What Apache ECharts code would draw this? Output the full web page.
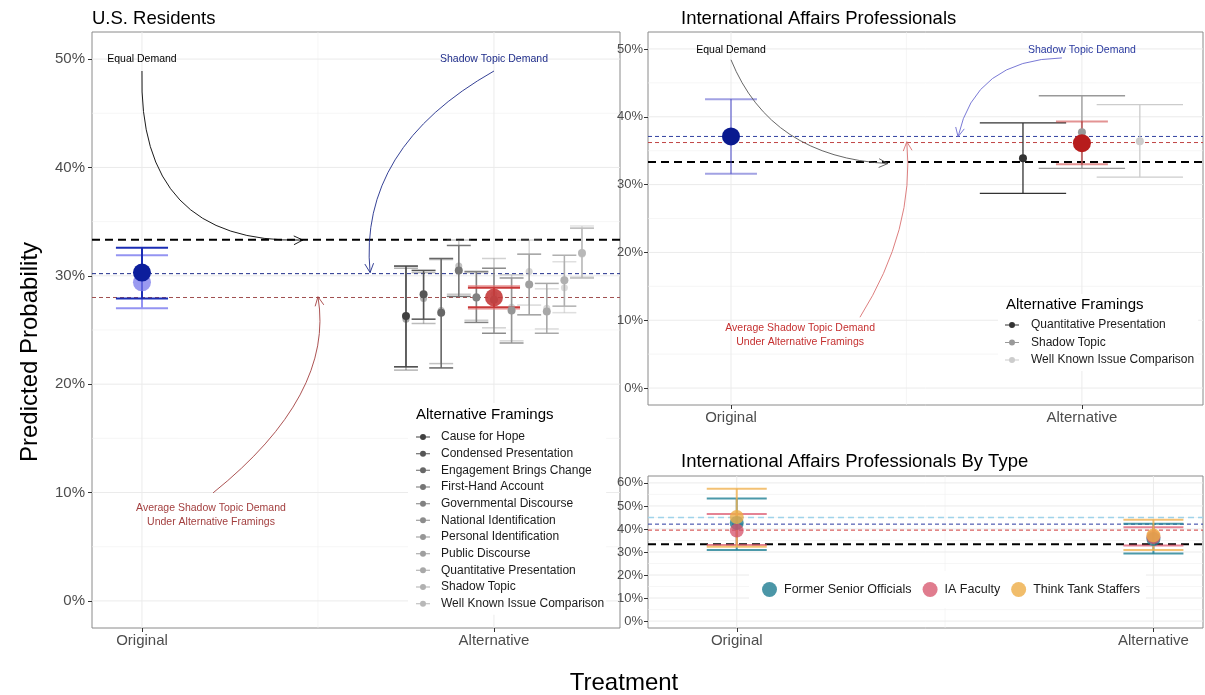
<!DOCTYPE html>
<html><head><meta charset="utf-8">
<script src="https://cdn.jsdelivr.net/npm/echarts@6/dist/echarts.min.js"></script>
<style>html,body{margin:0;padding:0;background:#fff}#c{width:1205px;height:695px}</style>
</head><body><div id="c"></div>
<script>
// ================= DATA =================
const treatments = ['Original', 'Alternative'];
const yTicksMain = [0, 0.1, 0.2, 0.3, 0.4, 0.5];
const yTicksType = [0, 0.1, 0.2, 0.3, 0.4, 0.5, 0.6];

// U.S. residents
const usFramings = ['Cause for Hope', 'Condensed Presentation', 'Engagement Brings Change', 'First-Hand Account',
  'Governmental Discourse', 'National Identification', 'Personal Identification', 'Public Discourse',
  'Quantitative Presentation', 'Shadow Topic', 'Well Known Issue Comparison'];
const usFramingEst  = [0.263, 0.283, 0.266, 0.305, 0.280, 0.278, 0.268, 0.292, 0.267, 0.296, 0.321];
const usFramingLo   = [0.216, 0.260, 0.215, 0.281, 0.257, 0.247, 0.238, 0.264, 0.247, 0.272, 0.298];
const usFramingHi   = [0.309, 0.305, 0.316, 0.328, 0.304, 0.307, 0.298, 0.320, 0.293, 0.319, 0.344];
const usFramingEst2 = [0.260, 0.279, 0.268, 0.309, 0.281, 0.283, 0.271, 0.304, 0.270, 0.289, 0.320];
const usFramingLo2  = [0.213, 0.256, 0.219, 0.283, 0.259, 0.252, 0.240, 0.273, 0.251, 0.266, 0.299];
const usFramingHi2  = [0.307, 0.303, 0.315, 0.333, 0.303, 0.316, 0.301, 0.333, 0.288, 0.313, 0.346];
const usOriginal  = [0.303, 0.279, 0.326];   // estimate, low, high
const usOriginal2 = [0.294, 0.270, 0.319];
const usAltAvg    = [0.280, 0.271, 0.289];
const usAltAvg2   = [0.280, 0.2695, 0.2905];
const usRefLines  = [1 / 3, 0.302, 0.280];   // equal demand, shadow topic demand, avg under alternatives

// International affairs professionals
const iaFramings   = ['Quantitative Presentation', 'Shadow Topic', 'Well Known Issue Comparison'];
const iaFramingEst = [0.339, 0.377, 0.364];
const iaFramingLo  = [0.287, 0.324, 0.311];
const iaFramingHi  = [0.391, 0.431, 0.418];
const iaOriginal   = [0.371, 0.316, 0.426];
const iaAltAvg     = [0.361, 0.330, 0.393];
const iaRefLines   = [1 / 3, 0.371, 0.362];

// By type
const types       = ['Former Senior Officials', 'IA Faculty', 'Think Tank Staffers'];
const typeOrigEst = [0.426, 0.393, 0.452];
const typeOrigLo  = [0.309, 0.330, 0.323];
const typeOrigHi  = [0.532, 0.465, 0.575];
const typeAltEst  = [0.356, 0.365, 0.372];
const typeAltLo   = [0.293, 0.328, 0.309];
const typeAltHi   = [0.423, 0.407, 0.440];
const typeRefLines = [1 / 3, 0.421, 0.395, 0.450];

// Annotations (data coordinates)
const usNoteText = ['Equal Demand', 'Shadow Topic Demand', 'Average Shadow Topic Demand\nUnder Alternative Framings'];
const usNoteAt   = [[1.0, 0.500], [2.0, 0.500], [1.196, 0.0794]];
const usNoteFrom = [[1.0, 0.489], [2.0, 0.489], [1.202, 0.0997]];
const usNoteCtrl = [[0.987, 0.329], [1.614, 0.418], [1.547, 0.190]];
const usNoteTo   = [[1.457, 0.333], [1.648, 0.303], [1.500, 0.2807]];
const iaNoteText = ['Equal Demand', 'Shadow Topic Demand', 'Average Shadow Topic Demand\nUnder Alternative Framings'];
const iaNoteAt   = [[1.0, 0.4985], [2.0, 0.4985], [1.197, 0.0787]];
const iaNoteFrom = [[1.0, 0.484], [1.943, 0.4868], [1.3675, 0.1044]];
const iaNoteCtrl = [[1.1125, 0.3404], [1.695, 0.484], [1.524, 0.2338]];
const iaNoteTo   = [[1.447, 0.331], [1.647, 0.3706], [1.501, 0.3632]];

// ================= STYLE =================
const FONT = '"Liberation Sans", Arial, Helvetica, sans-serif';
const usGray = ['#404040', '#565656', '#676767', '#757575', '#818181', '#8c8c8c', '#969696', '#9f9f9f', '#a8a8a8', '#b0b0b0', '#b8b8b8'];
const iaGray = ['#333333', '#999999', '#cccccc'];
const typeBarCol = ['rgba(30,128,148,0.8)', 'rgba(220,90,112,0.75)', 'rgba(240,178,80,0.8)'];
const typePtCol  = ['rgba(30,124,145,0.8)', 'rgba(214,80,104,0.75)', 'rgba(238,172,70,0.8)'];
const usRefStyle = [['#000000', 2, [8, 5]], ['#1f2d8a', 1, [4, 3]], ['#a04f4f', 1, [4, 3]]];
const iaRefStyle = [['#000000', 2, [8, 5]], ['#3040a0', 1, [4, 3]], ['#c04545', 1, [4, 3]]];
const typeRefStyle = [['#000000', 2, [8, 5]], ['#2a38a0', 1, [4, 3]], ['#d03a3a', 1, [4, 3]], ['#9fd3ea', 1.5, [6, 4]]];
const usNoteCol = [['#000000', '#000000'], ['#1f2d8a', '#1f2d8a'], ['#a33f3f', '#a33f3f']];
const iaNoteCol = [['#000000', '#555555'], ['#2a3aa0', '#6a6ad0'], ['#c53030', '#d97070']];
const rgbaGray = (hex, a) => { const v = parseInt(hex.slice(1, 3), 16); return `rgba(${v},${v},${v},${a})`; };
const pct = v => Math.round(v * 100) + '%';

// dodge positions
const usX = usFramings.map((_, i) => 2 + (i - 5) * 0.05);
const iaX = [2 - 0.168, 2, 2 + 0.165];

// ================= HELPERS =================
function xAx(idx, min, max) {
  return { type: 'value', gridIndex: idx, min, max,
    axisLine: { show: false, onZero: false }, splitLine: { show: false },
    axisTick: { show: true, customValues: [1, 2], length: 4, lineStyle: { color: '#333' } },
    axisLabel: { customValues: [1, 2], formatter: v => treatments[Math.round(v) - 1], color: '#4d4d4d', fontSize: 15, fontFamily: FONT, margin: 5 } };
}
function yAx(idx, min, max, ticks, fs, mg) {
  return { type: 'value', gridIndex: idx, min, max,
    axisLine: { show: false, onZero: false }, splitLine: { show: false },
    axisTick: { show: true, customValues: ticks, length: 4, lineStyle: { color: '#333' } },
    axisLabel: { customValues: ticks, formatter: pct, color: '#4d4d4d', fontSize: fs, fontFamily: FONT, margin: mg } };
}
function gridSeries(idx, yMajor, yMinor, xMajor, xMinor) {
  return { type: 'custom', xAxisIndex: idx, yAxisIndex: idx, z: 1, silent: true, data: [[1.5, 0]],
    renderItem(params, api) {
      const cs = params.coordSys, ch = [];
      const hl = (v, w, c) => { const y = api.coord([1.5, v])[1]; ch.push({ type: 'line', shape: { x1: cs.x, y1: y, x2: cs.x + cs.width, y2: y }, style: { stroke: c, lineWidth: w } }); };
      const vl = (v, w, c) => { const x = api.coord([v, 0])[0]; ch.push({ type: 'line', shape: { x1: x, y1: cs.y, x2: x, y2: cs.y + cs.height }, style: { stroke: c, lineWidth: w } }); };
      yMinor.forEach(v => hl(v, 0.6, '#f0f0f0'));
      xMinor.forEach(v => vl(v, 0.6, '#f0f0f0'));
      yMajor.forEach(v => hl(v, 1, '#ebebeb'));
      xMajor.forEach(v => vl(v, 1, '#ebebeb'));
      return { type: 'group', children: ch };
    } };
}
function refSeries(idx, vals, styles) {
  return { type: 'custom', xAxisIndex: idx, yAxisIndex: idx, z: 2, silent: true, data: vals.map(v => [1.5, v]),
    renderItem(params, api) {
      const cs = params.coordSys, s = styles[params.dataIndex];
      const y = api.coord([api.value(0), api.value(1)])[1];
      return { type: 'line', shape: { x1: cs.x, y1: y, x2: cs.x + cs.width, y2: y }, style: { stroke: s[0], lineWidth: s[1], lineDash: s[2] } };
    } };
}
function barSeries(idx, bars, z) {
  return { type: 'custom', xAxisIndex: idx, yAxisIndex: idx, z, silent: true,
    data: bars.map(b => [b.x, b.lo, b.hi]),
    renderItem(params, api) {
      const b = bars[params.dataIndex];
      const x = api.value(0), lo = api.value(1), hi = api.value(2);
      const top = api.coord([x, hi]), bot = api.coord([x, lo]);
      const l = api.coord([x - b.hw, hi])[0], r = api.coord([x + b.hw, hi])[0];
      const st = { stroke: b.color, lineWidth: b.width, fill: null };
      return { type: 'group', children: [
        { type: 'line', shape: { x1: top[0], y1: top[1], x2: bot[0], y2: bot[1] }, style: st },
        { type: 'line', shape: { x1: l, y1: top[1], x2: r, y2: top[1] }, style: st },
        { type: 'line', shape: { x1: l, y1: bot[1], x2: r, y2: bot[1] }, style: st }] };
    } };
}
function pts(idx, name, data, color, size, z) {
  return { type: 'scatter', name, xAxisIndex: idx, yAxisIndex: idx, data, symbolSize: size,
    itemStyle: { color, opacity: 1 }, z, silent: true, emphasis: { disabled: true } };
}
function noteSeries(idx, text, at, from, ctrl, to, cols) {
  return { type: 'custom', xAxisIndex: idx, yAxisIndex: idx, z: 6, silent: true, data: text.map(() => [1.5, 0]),
    renderItem(params, api) {
      const i = params.dataIndex;
      const p0 = api.coord(from[i]), c = api.coord(ctrl[i]), p1 = api.coord(to[i]), t = api.coord(at[i]);
      const dx = p1[0] - c[0], dy = p1[1] - c[1], L = Math.hypot(dx, dy), ux = dx / L, uy = dy / L;
      const len = 10, a = 26 * Math.PI / 180, ca = Math.cos(a), sa = Math.sin(a);
      const w1 = [p1[0] - len * (ux * ca - uy * sa), p1[1] - len * (uy * ca + ux * sa)];
      const w2 = [p1[0] - len * (ux * ca + uy * sa), p1[1] - len * (uy * ca - ux * sa)];
      const lc = cols[i][1];
      return { type: 'group', children: [
        { type: 'bezierCurve', shape: { x1: p0[0], y1: p0[1], cpx1: c[0], cpy1: c[1], x2: p1[0], y2: p1[1] }, style: { stroke: lc, lineWidth: 0.9, fill: null } },
        { type: 'polyline', shape: { points: [w1, p1, w2] }, style: { stroke: lc, lineWidth: 0.9, fill: null } },
        { type: 'text', x: t[0], y: t[1], style: { text: text[i], fill: cols[i][0], font: '10.5px ' + FONT, align: 'center', verticalAlign: 'middle', lineHeight: 14 } }
      ] };
    } };
}

// ================= BUILD SERIES =================
const series = [];
series.push(gridSeries(0, yTicksMain, [0.05, 0.15, 0.25, 0.35, 0.45], [1, 2], [1.5]));
series.push(gridSeries(1, yTicksMain, [0.05, 0.15, 0.25, 0.35, 0.45], [1, 2], [1.5]));
series.push(gridSeries(2, yTicksType, [0.05, 0.15, 0.25, 0.35, 0.45, 0.55], [1, 2], [1.5]));
series.push(refSeries(0, usRefLines, usRefStyle));
series.push(refSeries(1, iaRefLines, iaRefStyle));
series.push(refSeries(2, typeRefLines, typeRefStyle));

// ---- U.S. residents panel
const usBars = [];
usBars.push({ x: 1, lo: usOriginal2[1], hi: usOriginal2[2], hw: 0.074, color: '#9494f2', width: 2 });
usBars.push({ x: 1, lo: usOriginal[1], hi: usOriginal[2], hw: 0.074, color: '#1b2db4', width: 2 });
usFramings.forEach((_, i) => usBars.push({ x: usX[i], lo: usFramingLo2[i], hi: usFramingHi2[i], hw: 0.034, color: rgbaGray(usGray[i], 0.4), width: 1.5 }));
usFramings.forEach((_, i) => usBars.push({ x: usX[i], lo: usFramingLo[i], hi: usFramingHi[i], hw: 0.034, color: usGray[i], width: 1.5 }));
usBars.push({ x: 2, lo: usAltAvg2[1], hi: usAltAvg2[2], hw: 0.074, color: 'rgba(226,120,120,0.6)', width: 2 });
usBars.push({ x: 2, lo: usAltAvg[1], hi: usAltAvg[2], hw: 0.074, color: '#c83838', width: 2 });
series.push(barSeries(0, usBars, 3));
series.push(pts(0, 'orig2', [[1, usOriginal2[0]]], 'rgba(120,120,235,0.75)', 18, 4));
series.push(pts(0, 'orig', [[1, usOriginal[0]]], '#0c1e9c', 18, 4));
series.push(pts(0, 'sec', usFramings.map((_, i) => ({ value: [usX[i], usFramingEst2[i]], itemStyle: { color: rgbaGray(usGray[i], 0.45) } })), '#aaa', 7, 4));
usFramings.forEach((f, i) => series.push(pts(0, f, [[usX[i], usFramingEst[i]]], usGray[i], 8, 4)));
series.push(pts(0, 'avg', [[2, usAltAvg[0]]], 'rgba(196,58,58,0.9)', 18, 5));
series.push(noteSeries(0, usNoteText, usNoteAt, usNoteFrom, usNoteCtrl, usNoteTo, usNoteCol));

// ---- IA professionals panel
const iaBars = [];
iaBars.push({ x: 1, lo: iaOriginal[1], hi: iaOriginal[2], hw: 0.074, color: 'rgba(70,70,200,0.5)', width: 2 });
iaFramings.forEach((_, i) => iaBars.push({ x: iaX[i], lo: iaFramingLo[i], hi: iaFramingHi[i], hw: 0.123, color: iaGray[i], width: 1.3 }));
iaBars.push({ x: 2, lo: iaAltAvg[1], hi: iaAltAvg[2], hw: 0.074, color: 'rgba(200,40,40,0.5)', width: 2 });
series.push(barSeries(1, iaBars, 3));
series.push(pts(1, 'iaorig', [[1, iaOriginal[0]]], '#0a1a8f', 18, 4));
iaFramings.forEach((f, i) => series.push(pts(1, f + ' (IA)', [[iaX[i], iaFramingEst[i]]], iaGray[i], 8, 4)));
series.push(pts(1, 'iaavg', [[2, iaAltAvg[0]]], '#b71c1c', 18, 5));
series.push(noteSeries(1, iaNoteText, iaNoteAt, iaNoteFrom, iaNoteCtrl, iaNoteTo, iaNoteCol));

// ---- By type panel
const typeBars = [];
types.forEach((_, i) => {
  typeBars.push({ x: 1, lo: typeOrigLo[i], hi: typeOrigHi[i], hw: 0.072, color: typeBarCol[i], width: 2 });
  typeBars.push({ x: 2, lo: typeAltLo[i], hi: typeAltHi[i], hw: 0.072, color: typeBarCol[i], width: 2 });
});
series.push(barSeries(2, typeBars, 3));
types.forEach((t, i) => series.push(pts(2, t, [[1, typeOrigEst[i]], [2, typeAltEst[i]]], typePtCol[i], 14, 4)));

// ================= OPTION =================
const KEY = 'path://M0,4.5h14v1h-14z M4,5a3,3 0 1,1 6,0a3,3 0 1,1 -6,0z';
const titleStyle = { fontSize: 18.5, fontWeight: 'normal', color: '#000', fontFamily: FONT };
const legendTitleStyle = { fontSize: 15, fontWeight: 'normal', color: '#000', fontFamily: FONT };
const option = {
  animation: false,
  backgroundColor: '#fff',
  textStyle: { fontFamily: FONT },
  title: [
    { text: 'U.S. Residents', left: 92, top: 9, padding: 0, textStyle: titleStyle },
    { text: 'International Affairs Professionals', left: 681, top: 9, padding: 0, textStyle: titleStyle },
    { text: 'International Affairs Professionals By Type', left: 681, top: 452, padding: 0, textStyle: titleStyle },
    { text: 'Alternative Framings', left: 416, top: 407, padding: 0, textStyle: legendTitleStyle },
    { text: 'Alternative Framings', left: 1006, top: 297, padding: 0, textStyle: legendTitleStyle }
  ],
  grid: [
    { left: 92, top: 32, width: 528, height: 596, show: true, borderColor: '#8a8a8a', borderWidth: 1, backgroundColor: '#fff' },
    { left: 648, top: 32, width: 555, height: 373, show: true, borderColor: '#8a8a8a', borderWidth: 1, backgroundColor: '#fff' },
    { left: 648, top: 476, width: 555, height: 152, show: true, borderColor: '#8a8a8a', borderWidth: 1, backgroundColor: '#fff' }
  ],
  xAxis: [xAx(0, 0.858, 2.358), xAx(1, 0.7635, 2.345), xAx(2, 0.787, 2.119)],
  yAxis: [yAx(0, -0.025, 0.525, yTicksMain, 15, 7), yAx(1, -0.025, 0.525, yTicksMain, 13, 5), yAx(2, -0.03, 0.63, yTicksType, 13, 5)],
  legend: [
    { orient: 'vertical', left: 408, top: 403, padding: [27, 2, 4, 8], backgroundColor: '#fff', z: 5,
      itemWidth: 14, itemHeight: 6, itemGap: 2.67, icon: KEY, selectedMode: false, data: usFramings,
      textStyle: { fontSize: 12, fontFamily: FONT, color: '#1a1a1a', lineHeight: 14, padding: [0, 0, 0, 6] } },
    { orient: 'vertical', left: 998, top: 294, padding: [24, 4, 4, 7], backgroundColor: '#fff', z: 5,
      itemWidth: 14, itemHeight: 6, itemGap: 3.5, icon: KEY, selectedMode: false, data: iaFramings.map(f => f + ' (IA)'),
      formatter: n => n.replace(' (IA)', ''),
      textStyle: { fontSize: 12, fontFamily: FONT, color: '#1a1a1a', lineHeight: 14, padding: [0, 0, 0, 7] } },
    { orient: 'horizontal', left: 749, top: 571, padding: [11, 6, 11, 13], backgroundColor: '#fff', z: 5,
      itemWidth: 15, itemHeight: 15, itemGap: 11, icon: 'circle', selectedMode: false, data: types,
      textStyle: { fontSize: 12.5, fontFamily: FONT, color: '#1a1a1a', padding: [0, 0, 0, 2] } }
  ],
  graphic: [
    { type: 'text', x: 30, y: 352, rotation: Math.PI / 2, style: { text: 'Predicted Probability', font: '24px ' + FONT, fill: '#000', align: 'center', verticalAlign: 'middle' } },
    { type: 'text', x: 624, y: 683, style: { text: 'Treatment', font: '24px ' + FONT, fill: '#000', align: 'center', verticalAlign: 'middle' } }
  ],
  series
};
const chart = echarts.init(document.getElementById('c'));
chart.setOption(option);
</script>
</body></html>
